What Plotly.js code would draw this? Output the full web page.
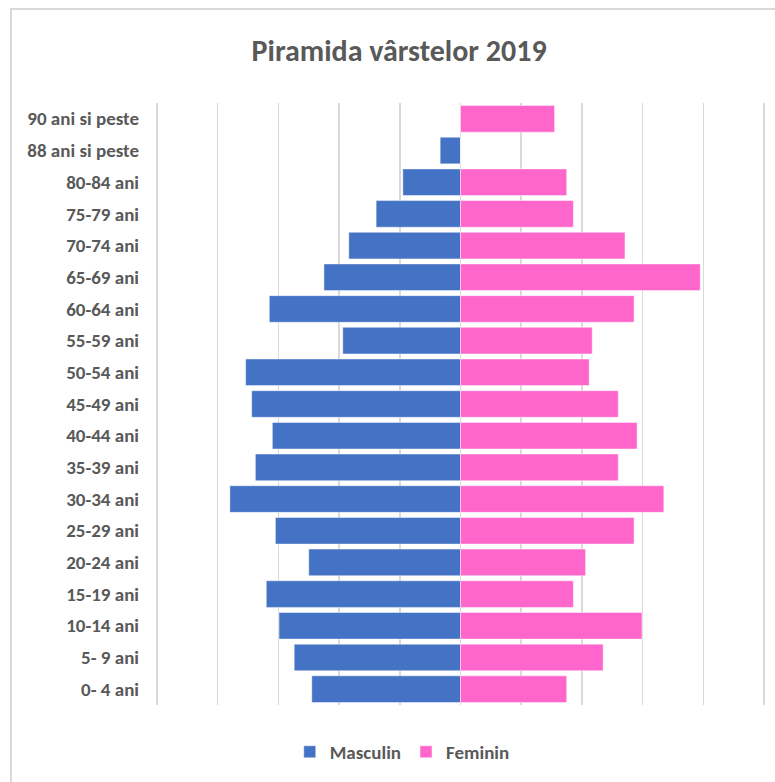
<!DOCTYPE html>
<html>
<head>
<meta charset="utf-8">
<script src="https://cdn.plot.ly/plotly-3.0.1.min.js"></script>
<style>html,body{margin:0;padding:0;background:#fff;}#chart{width:775px;height:782px;}</style>
</head>
<body>
<div id="chart"></div>
<script>
const categories = ["0- 4 ani","5- 9 ani","10-14 ani","15-19 ani","20-24 ani","25-29 ani","30-34 ani","35-39 ani","40-44 ani","45-49 ani","50-54 ani","55-59 ani","60-64 ani","65-69 ani","70-74 ani","75-79 ani","80-84 ani","88 ani si peste","90 ani si peste"];
const masculin = [-24.5,-27.4,-29.9,-32.0,-25.0,-30.5,-38.0,-33.8,-31.0,-34.4,-35.4,-19.4,-31.5,-22.5,-18.4,-13.9,-9.5,-3.35,0];
const feminin = [17.5,23.5,29.9,18.6,20.6,28.6,33.5,26.0,29.1,26.0,21.2,21.7,28.6,39.5,27.1,18.6,17.5,0,15.5];
const xTicks = [-50,-40,-30,-20,-10,0,10,20,30,40,50];

const FONT = "Carlito, 'Liberation Sans Narrow', 'DejaVu Sans Condensed', 'Open Sans', sans-serif";
const traces = [
  {type:'bar', orientation:'h', name:'Masculin', y:categories, x:masculin,
   marker:{color:'#4472C4', line:{color:'rgba(255,255,255,0.45)', width:1}}},
  {type:'bar', orientation:'h', name:'Feminin', y:categories, x:feminin,
   marker:{color:'#FF66CC', line:{color:'rgba(255,255,255,0.45)', width:1}}}
];
const layout = {
  width:775, height:782,
  margin:{l:154, r:8, t:103, b:77},
  paper_bgcolor:'#fff', plot_bgcolor:'#fff',
  barmode:'relative', bargap:0.16,
  font:{family:FONT, color:'#595959', size:16},
  title:{text:'<b>Piramida vârstelor 2019</b>', x:0.515, xanchor:'center', y:0.936, yanchor:'middle',
         font:{family:FONT, size:30, color:'#595959'}},
  xaxis:{range:[-50.5,50.5], tickvals:xTicks, showticklabels:false, showgrid:true, gridcolor:'#d9d9d9', gridwidth:1.5,
         zeroline:false, showline:false, fixedrange:true},
  yaxis:{type:'category', categoryorder:'array', categoryarray:categories, showgrid:false, zeroline:false, showline:false,
         ticks:'', ticklabelstandoff:14, tickfont:{family:FONT, size:19, color:'#595959', weight:'bold'}},
  legend:{orientation:'h', x:0.405, xanchor:'center', y:-0.078, yanchor:'middle',
          font:{family:FONT, size:19, color:'#595959', weight:'bold'}, traceorder:'normal', itemwidth:30},
  shapes:[{type:'rect', xref:'paper', yref:'paper', x0:(11-154)/613, x1:(790-154)/613, y0:(705-795)/602, y1:(705-9)/602,
           line:{color:'#d9d9d9', width:2}, fillcolor:'rgba(0,0,0,0)', layer:'below'}],
  showlegend:true
};
Plotly.newPlot('chart', traces, layout, {staticPlot:true, displayModeBar:false});
</script>
</body>
</html>
